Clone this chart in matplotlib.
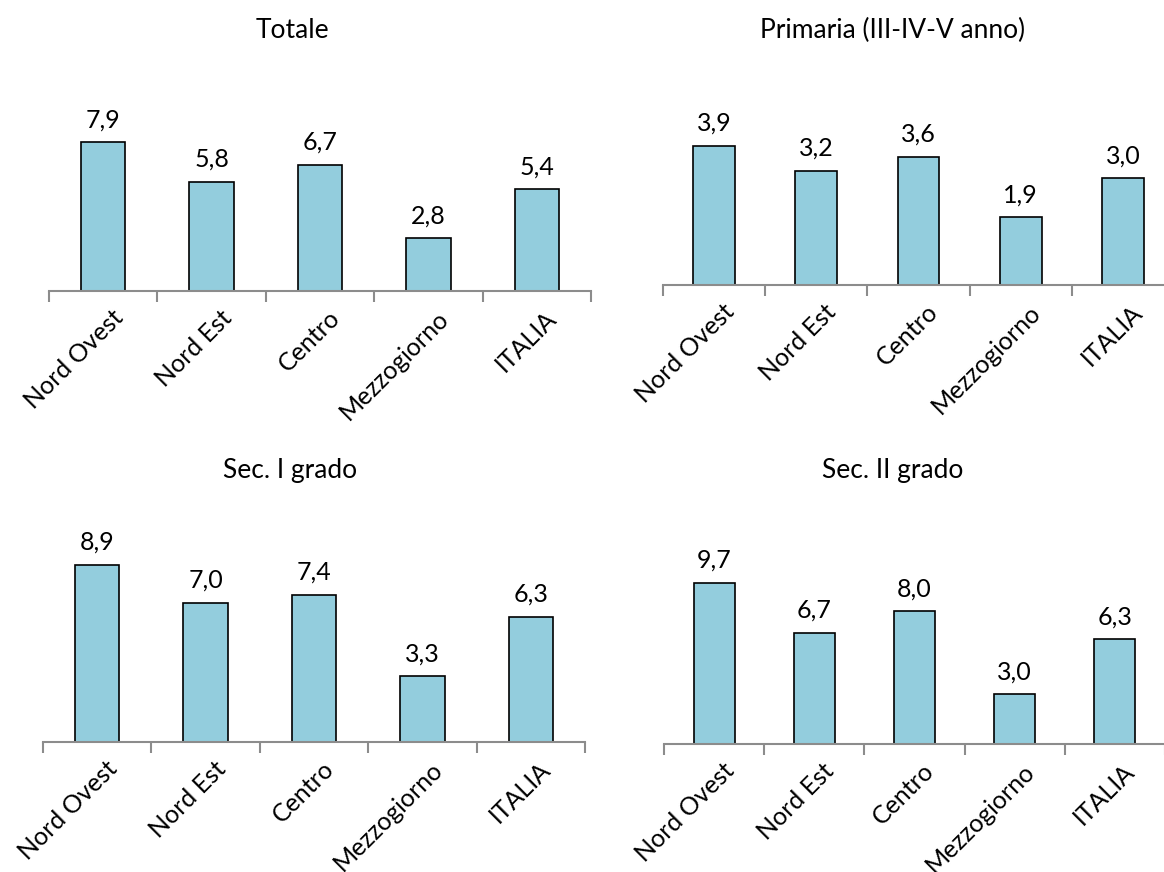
import matplotlib
matplotlib.use("Agg")
import matplotlib.pyplot as plt
import matplotlib.transforms as mtrans
import numpy as np

plt.rcParams['font.family'] = ['Lato', 'DejaVu Sans']

categories = ['Nord Ovest', 'Nord Est', 'Centro', 'Mezzogiorno', 'ITALIA']
totale = [7.9, 5.8, 6.7, 2.8, 5.4]
primaria = [3.9, 3.2, 3.6, 1.9, 3.0]
sec_1 = [8.9, 7.0, 7.4, 3.3, 6.3]
sec_2 = [9.7, 6.7, 8.0, 3.0, 6.3]

titles = ['Totale', 'Primaria (III-IV-V anno)', 'Sec. I grado', 'Sec. II grado']
series = [totale, primaria, sec_1, sec_2]

W, H = 1164, 872
fig = plt.figure(figsize=(W / 100, H / 100), dpi=100)

# panel boxes in pixels: left, right, top, baseline, px per unit, title x, title y
panels = [
    (49, 591, 60, 291, 18.8, 292, 30),
    (663, 1174, 60, 285, 35.6, 893, 30),
    (43, 585, 510, 742, 19.9, 290, 470),
    (664, 1165, 510, 744, 16.6, 893, 470),
]

bar_color = '#93CDDD'
axis_gray = '#8c8c8c'

for (l, r, t, b, scale, tx, ty), vals, title in zip(panels, series, titles):
    ax = fig.add_axes([l / W, 1 - b / H, (r - l) / W, (b - t) / H])
    x = np.arange(len(categories))
    bars = ax.bar(x, vals, width=0.41, color=bar_color, edgecolor='black',
                  linewidth=1.2, zorder=3)
    ax.bar_label(bars, labels=[f'{v:.1f}'.replace('.', ',') for v in vals],
                 padding=8, fontsize=18)
    ax.set_xlim(-0.5, len(categories) - 0.5)
    ax.set_ylim(0, (b - t) / scale)
    for s in ['top', 'right', 'left']:
        ax.spines[s].set_visible(False)
    ax.spines['bottom'].set_color(axis_gray)
    ax.spines['bottom'].set_linewidth(1.5)
    ax.spines['bottom'].set_zorder(4)
    ax.set_yticks([])
    ax.set_xticks(x)
    ax.set_xticklabels(categories, rotation=45, ha='right', va='top',
                       rotation_mode='anchor', fontsize=18)
    ax.tick_params(axis='x', which='major', length=0, pad=11)
    shift = mtrans.ScaledTranslation(8 / 100, 0, fig.dpi_scale_trans)
    for lab in ax.get_xticklabels():
        lab.set_transform(lab.get_transform() + shift)
    ax.set_xticks(np.arange(-0.5, len(categories)), minor=True)
    ax.tick_params(axis='x', which='minor', length=8, width=1.5, color=axis_gray)
    fig.text(tx / W, 1 - ty / H, title, ha='center', va='center', fontsize=19)

fig.savefig('out.png', dpi=100)
